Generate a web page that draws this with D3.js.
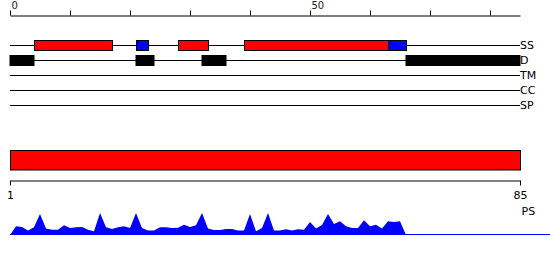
<!DOCTYPE html>
<html>
<head>
<meta charset="utf-8">
<script src="https://cdn.jsdelivr.net/npm/d3@7"></script>
<style>
  html, body { margin: 0; padding: 0; background: #fff; }
  svg { display: block; font-family: "DejaVu Sans", sans-serif; }
</style>
</head>
<body>
<svg id="chart" width="550" height="260"></svg>
<script>
// ---- data ----
const tracks = ["SS", "D", "TM", "CC", "SP"];
const topTickValues = [0, 10, 20, 30, 40, 50, 60, 70, 80];
const topTickLabels = ["0", "", "", "", "", "50", "", "", ""];
const ssStarts = [4, 21, 28, 39, 63];
const ssEnds   = [17, 23, 33, 63, 66];
const ssTypes  = ["helix", "strand", "helix", "helix", "strand"];
const dStarts  = [0, 21, 32, 66];
const dEnds    = [4, 24, 36, 85];
const seqStart = 1;
const seqEnd = 85;
const seqTickLabels = ["1", "85"];
const seqName = "PS";
const scoreValues = [
  0, .40, .36, .20, .35, .95, .29, .24, .24, .44,
  .32, .35, .36, .24, .17, 1.0, .35, .27, .35, .40,
  .32, 1.0, .32, .21, .20, .35, .35, .32, .33, .47,
  .36, .44, 1.0, .29, .23, .23, .27, .27, .21, .21,
  .95, .17, .32, 1.0, .20, .20, .26, .20, .26, .24,
  .59, .29, .45, .95, .50, .62, .40, .32, .32, .67,
  .40, .47, .29, .62, .59, .62, 0
];

// ---- scales ----
const svg = d3.select("#chart");
const x = d3.scaleLinear().domain([0, 85]).range([10, 520]);
const xs = d3.scaleLinear().domain([seqStart, seqEnd]).range([10, 520]);
const yTrack = d3.scalePoint().domain(tracks).range([45, 105]);
const yScore = d3.scaleLinear().domain([0, 1]).range([235, 213]);
const colors = { helix: "#ff0000", strand: "#0000ff" };

// ---- top axis ----
const topAxis = d3.axisTop(x).tickValues(topTickValues)
  .tickSize(5).tickSizeOuter(0)
  .tickFormat((d, i) => topTickLabels[i]);
const gTop = svg.append("g").attr("transform", "translate(0,15.5)").call(topAxis);
gTop.select(".domain").attr("stroke", "#000");
gTop.selectAll(".tick line").attr("stroke", "#000");
gTop.selectAll(".tick text")
  .attr("text-anchor", "start").attr("x", 1).attr("y", -7)
  .attr("font-size", 10).attr("fill", "#222")
  .attr("font-family", "DejaVu Sans, sans-serif");

// ---- tracks ----
const gTracks = svg.append("g");
gTracks.selectAll("line").data(tracks).join("line")
  .attr("x1", x(0)).attr("x2", x(85))
  .attr("y1", d => Math.round(yTrack(d)) + 0.5)
  .attr("y2", d => Math.round(yTrack(d)) + 0.5)
  .attr("stroke", "#000").attr("stroke-width", 1);
gTracks.selectAll("text").data(tracks).join("text")
  .attr("x", x(85)).attr("y", d => yTrack(d))
  .attr("dy", "0.35em")
  .attr("font-size", 11).attr("fill", "#000")
  .text(d => d);

// SS segments
const ssData = ssStarts.map((s, i) => ({ s, e: ssEnds[i], t: ssTypes[i] }));
svg.append("g").selectAll("rect").data(ssData).join("rect")
  .attr("x", d => x(d.s) + 0.5).attr("y", yTrack("SS") - 4.5)
  .attr("width", d => x(d.e) - x(d.s)).attr("height", 10)
  .attr("fill", d => colors[d.t]).attr("stroke", "#000").attr("stroke-width", 1);

// D segments
const dData = dStarts.map((s, i) => ({ s, e: dEnds[i] }));
svg.append("g").selectAll("rect").data(dData).join("rect")
  .attr("x", d => x(d.s)).attr("y", yTrack("D") - 4.5)
  .attr("width", d => x(d.e) - x(d.s)).attr("height", 10)
  .attr("fill", "#000").attr("stroke", "#000").attr("stroke-width", 1);

// ---- sequence bar ----
svg.append("rect")
  .attr("x", xs(seqStart) + 0.5).attr("y", 150.5)
  .attr("width", xs(seqEnd) - xs(seqStart)).attr("height", 19.5)
  .attr("fill", "#ff0000").attr("stroke", "#000").attr("stroke-width", 1);

// ---- bottom axis ----
const botAxis = d3.axisBottom(xs).tickValues([seqStart, seqEnd])
  .tickSize(5).tickSizeOuter(0)
  .tickFormat((d, i) => seqTickLabels[i]);
const gBot = svg.append("g").attr("transform", "translate(0,180.5)").call(botAxis);
gBot.select(".domain").attr("stroke", "#000");
gBot.selectAll(".tick line").attr("stroke", "#000");
gBot.selectAll(".tick text")
  .attr("y", 11).attr("font-size", 11).attr("fill", "#000")
  .attr("font-family", "DejaVu Sans, sans-serif");
svg.append("text")
  .attr("x", xs(seqEnd) + 1.5).attr("y", 215)
  .attr("font-size", 11).attr("fill", "#000")
  .text(seqName);

// ---- score area ----
const area = d3.area()
  .x((d, i) => x(i))
  .y0(yScore(0))
  .y1(d => yScore(d));
svg.append("path").datum(scoreValues)
  .attr("d", area).attr("fill", "#0000ff");
svg.append("line")
  .attr("x1", x(0)).attr("x2", 550)
  .attr("y1", yScore(0) - 0.5).attr("y2", yScore(0) - 0.5)
  .attr("stroke", "#0000ff").attr("stroke-width", 1);
</script>
</body>
</html>
